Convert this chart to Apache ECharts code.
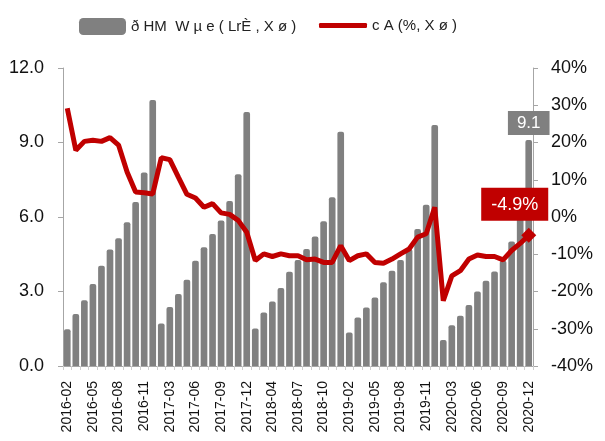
<!DOCTYPE html>
<html>
<head>
<meta charset="utf-8">
<script src="https://cdn.jsdelivr.net/npm/echarts@6/dist/echarts.min.js"></script>
<style>
  html, body { margin: 0; padding: 0; background: #fff; }
  #container { width: 605px; height: 441px; }
</style>
</head>
<body>
<div id="container"></div>
<script>
var months = [
  "2016-02", "2016-03", "2016-04", "2016-05", "2016-06", "2016-07", "2016-08", "2016-09", "2016-10", "2016-11", "2016-12",
  "2017-02", "2017-03", "2017-04", "2017-05", "2017-06", "2017-07", "2017-08", "2017-09", "2017-10", "2017-11", "2017-12",
  "2018-02", "2018-03", "2018-04", "2018-05", "2018-06", "2018-07", "2018-08", "2018-09", "2018-10", "2018-11", "2018-12",
  "2019-02", "2019-03", "2019-04", "2019-05", "2019-06", "2019-07", "2019-08", "2019-09", "2019-10", "2019-11", "2019-12",
  "2020-02", "2020-03", "2020-04", "2020-05", "2020-06", "2020-07", "2020-08", "2020-09", "2020-10", "2020-11", "2020-12"
];

// cumulative value (left axis)
var barValues = [
  1.48, 2.09, 2.65, 3.30, 4.04, 4.69, 5.14, 5.79, 6.60, 7.79, 10.71,
  1.71, 2.38, 2.90, 3.47, 4.24, 4.78, 5.32, 5.86, 6.64, 7.72, 10.23,
  1.51, 2.15, 2.60, 3.14, 3.80, 4.27, 4.71, 5.21, 5.83, 6.80, 9.43,
  1.35, 1.95, 2.36, 2.76, 3.37, 3.84, 4.27, 4.71, 5.52, 6.49, 9.70,
  1.05, 1.64, 2.02, 2.46, 3.00, 3.43, 3.81, 4.24, 5.01, 6.40, 9.1
];

// growth, % (right axis)
var lineValues = [
  29.2, 17.9, 20.3, 20.6, 20.3, 21.3, 19.3, 12.1, 6.7, 6.5, 6.2,
  15.9, 15.4, 10.7, 6.1, 5.1, 2.6, 3.6, 1.1, 0.7, -0.9, -4.1,
  -11.7, -9.9, -10.6, -9.9, -10.4, -10.4, -11.5, -11.3, -12.2, -12.2, -7.7,
  -11.7, -10.4, -9.9, -12.2, -12.4, -11.3, -9.9, -8.6, -5.4, -4.5, 2.6,
  -22.5, -15.8, -14.4, -11.3, -10.2, -10.6, -10.6, -11.5, -9.0, -7.1, -4.9
];

var leftTicks = [0, 3, 6, 9, 12];
var rightTicks = [-40, -30, -20, -10, 0, 10, 20, 30, 40];

var barName = "ð HM  W µ e ( LrÈ , X ø )";
var lineName = "c A (%, X ø )";

var font = 'Arial, "Liberation Sans", sans-serif';

var dom = document.getElementById("container");
var myChart = echarts.init(dom, null, { renderer: "canvas" });

var last = barValues.length - 1;
var barData = barValues.map(function (v, i) {
  if (i !== last) return v;
  return {
    value: v,
    label: {
      show: true,
      position: "top",
      distance: 5,
      formatter: function (p) { return p.value.toFixed(1); },
      backgroundColor: "#808080",
      color: "#fff",
      fontSize: 17,
      fontFamily: font,
      padding: [4, 9, 3, 9]
    }
  };
});

var lineData = lineValues.map(function (v, i) {
  if (i !== last) return v;
  return {
    value: v,
    symbol: "diamond",
    symbolSize: 15,
    label: {
      show: true,
      position: "top",
      distance: 7,
      offset: [-14, 0],
      formatter: function (p) { return p.value.toFixed(1) + "%"; },
      backgroundColor: "#c00000",
      color: "#fff",
      fontSize: 18,
      fontFamily: font,
      padding: [8, 10, 7, 10]
    }
  };
});

var option = {
  animation: false,
  textStyle: { fontFamily: font },
  legend: [
    {
      data: [barName],
      left: 74,
      top: 13,
      icon: "roundRect",
      itemWidth: 47,
      itemHeight: 17,
      textStyle: { fontSize: 15, color: "#222", fontFamily: font }
    },
    {
      data: [lineName],
      left: 314,
      top: 13,
      icon: "roundRect",
      itemWidth: 48,
      itemHeight: 5,
      textStyle: { fontSize: 15, color: "#222", fontFamily: font }
    }
  ],
  grid: {
    left: 63,
    right: 72,
    top: 68,
    bottom: 75
  },
  xAxis: {
    type: "category",
    data: months,
    boundaryGap: true,
    axisLine: { lineStyle: { color: "#a6a6a6", width: 1 } },
    axisTick: { show: true, interval: 0, length: 4, lineStyle: { color: "#d0d0d0" } },
    axisLabel: {
      interval: 2,
      rotate: 90,
      fontSize: 14,
      color: "#111",
      margin: 15
    }
  },
  yAxis: [
    {
      type: "value",
      min: leftTicks[0],
      max: leftTicks[leftTicks.length - 1],
      interval: 3,
      splitLine: { show: false },
      axisLine: { show: true, lineStyle: { color: "#a6a6a6" } },
      axisTick: { show: true, length: 5, lineStyle: { color: "#a6a6a6" } },
      axisLabel: {
        fontSize: 18,
        color: "#111",
        margin: 19,
        formatter: function (v) { return v.toFixed(1); }
      }
    },
    {
      type: "value",
      min: rightTicks[0],
      max: rightTicks[rightTicks.length - 1],
      interval: 10,
      splitLine: { show: false },
      axisLine: { show: true, lineStyle: { color: "#a6a6a6" } },
      axisTick: { show: true, length: 5, lineStyle: { color: "#a6a6a6" } },
      axisLabel: {
        fontSize: 18,
        color: "#111",
        margin: 18,
        formatter: "{value}%"
      }
    }
  ],
  series: [
    {
      name: barName,
      type: "bar",
      yAxisIndex: 0,
      data: barData,
      barWidth: "78%",
      itemStyle: {
        color: "#808080",
        borderRadius: [2, 2, 0, 0]
      }
    },
    {
      name: lineName,
      type: "line",
      yAxisIndex: 1,
      data: lineData,
      symbol: "none",
      z: 5,
      lineStyle: { color: "#c00000", width: 5 },
      itemStyle: { color: "#c00000" }
    }
  ]
};

myChart.setOption(option);

window.addEventListener("resize", myChart.resize);
</script>
</body>
</html>
